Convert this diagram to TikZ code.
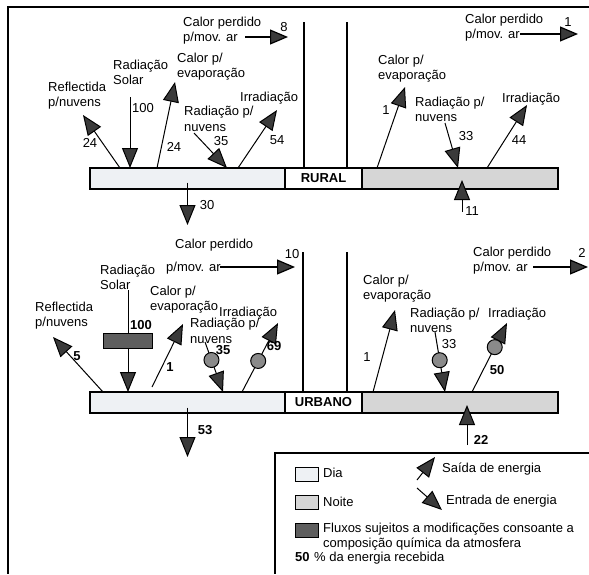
\documentclass[tikz,border=0pt]{standalone}
\usepackage{fontspec}
\setmainfont{Liberation Sans}
\usetikzlibrary{arrows.meta, positioning}
\definecolor{headgray}{HTML}{3A3A3A}
\definecolor{dayfill}{HTML}{EEF1F4}
\definecolor{nightfill}{HTML}{D6D6D6}
\definecolor{chemfill}{HTML}{5E5E5E}
\definecolor{dropgray}{HTML}{8A8A8A}

\begin{document}
\begin{tikzpicture}[
  x=1pt, y=-1pt,
  font=\fontsize{13}{15.5}\selectfont,
  lbl/.style={anchor=base west, inner sep=0pt, align=left},
  num/.style={inner sep=0pt},
  bnum/.style={num, font=\fontsize{13}{15.5}\selectfont\bfseries},
  bar/.style={draw, line width=1.2pt, minimum height=21pt, inner sep=0pt, outer sep=0pt, anchor=north west},
  daybar/.style={bar, fill=dayfill, minimum width=195pt},
  cell/.style={bar, fill=white, minimum width=77pt, font=\fontsize{13}{15.5}\selectfont\bfseries},
  nightbar/.style={bar, fill=nightfill, minimum width=196pt},
  flux/.style={-{Triangle[length=20pt, width=16pt, fill=headgray]}, line width=1pt},
  wind/.style={-{Triangle[length=18pt, width=15pt, fill=headgray]}, line width=1.2pt},
  drop/.style={circle, draw, line width=1pt, fill=dropgray, minimum size=15pt, inner sep=0pt},
  chembox/.style={draw, line width=1pt, fill=chemfill, minimum width=49pt, minimum height=15pt, inner sep=0pt},
  wall/.style={line width=1.2pt},
  key/.style={draw, line width=1.2pt, minimum width=23pt, minimum height=14pt, inner sep=0pt, anchor=north west},
]
  \useasboundingbox (0,0) rectangle (589,574);

  % Frames
  \draw[line width=1.5pt] (589,7) -- (8,7) -- (8,574);
  \draw[line width=1.5pt] (589,453) -- (275,453) -- (275,574);
  \draw[wall] (304,22) -- (304,168);
  \draw[wall] (347,22) -- (347,168);
  \draw[wall] (303,252) -- (303,392);
  \draw[wall] (347,252) -- (347,392);

  % Bars
  \node[daybar] (rday) at (90,168) {};
  \node[cell, right=0pt of rday] (rlab) {RURAL};
  \node[nightbar, right=0pt of rlab] (rnight) {};
  \node[daybar] (uday) at (90,392) {};
  \node[cell, right=0pt of uday] (ulab) {URBANO};
  \node[nightbar, right=0pt of ulab] (unight) {};

  % Free ends
  \coordinate (rdReflTip) at (83,115);
  \coordinate (rdSolarTail) at (130,97);
  \coordinate (rdEvapTip) at (175,82);
  \coordinate (rdRadTail) at (194,133);
  \coordinate (rdIrrTip) at (277,110);
  \coordinate (rdWindTail) at (245,37);
  \coordinate (rdWindTip) at (288,37);
  \coordinate (rdDownTip) at (187.5,225);
  \coordinate (rnWindTail) at (520,34);
  \coordinate (rnWindTip) at (578,34);
  \coordinate (rnEvapTip) at (405,87);
  \coordinate (rnRadTail) at (445,123);
  \coordinate (rnIrrTip) at (527,105);
  \coordinate (rnUpTail) at (462,212);
  \coordinate (udWindTail) at (220,267);
  \coordinate (udWindTip) at (295,267);
  \coordinate (udSolarTail) at (128,290);
  \coordinate (udReflTip) at (53,337);
  \coordinate (udEvapTail) at (152,387);
  \coordinate (udEvapTip) at (183,324);
  \coordinate (udRadTail) at (205,342);
  \coordinate (udIrrTip) at (278,323);
  \coordinate (udDownTip) at (187.5,457);
  \coordinate (unWindTail) at (533,267);
  \coordinate (unWindTip) at (588,267);
  \coordinate (unEvapTip) at (395,310);
  \coordinate (unRadTail) at (435,332);
  \coordinate (unIrrTip) at (507,323);
  \coordinate (unUpTail) at (467,445);
  \coordinate (keyOutTail) at (417,480);
  \coordinate (keyOutTip) at (435,457);
  \coordinate (keyInTail) at (417,488);
  \coordinate (keyInTip) at (442,510);

  % Rural, day
  \node[lbl] (rdReflTxt) at (48,106.5) {Reflectida\\p/nuvens};
  \node[lbl] (rdSolarTxt) at (113,84.5) {Radiação\\Solar};
  \node[lbl] (rdEvapTxt) at (177,77.5) {Calor p/\\evaporação};
  \node[lbl] (rdRadTxt) at (184,131) {Radiação p/\\nuvens};
  \node[lbl] (rdIrrTxt) at (240,101.5) {Irradiação};
  \node[lbl] (rdWindTxt) at (183,41.5) {Calor perdido\\p/mov. ar};
  \draw[flux] ([xshift=30pt]rday.north west) -- (rdReflTip);
  \draw[flux] (rdSolarTail) -- ([xshift=40pt]rday.north west);
  \draw[flux] ([xshift=67pt]rday.north west) -- (rdEvapTip);
  \draw[flux] (rdRadTail) -- ([xshift=137pt]rday.north west);
  \draw[flux] ([xshift=148pt]rday.north west) -- (rdIrrTip);
  \draw[wind] (rdWindTail) -- (rdWindTip);
  \draw[flux] ([yshift=-4pt]rday.center) -- (rdDownTip);
  \node[num] (rdReflNum) at (90,143) {24};
  \node[num] (rdSolarNum) at (143,108) {100};
  \node[num] (rdEvapNum) at (174,147) {24};
  \node[num] (rdRadNum) at (221,141) {35};
  \node[num] (rdIrrNum) at (277,140) {54};
  \node[num] (rdWindNum) at (284,27) {8};
  \node[num] (rdDownNum) at (207,205) {30};

  % Rural, night
  \node[lbl] (rnWindTxt) at (465,38.5) {Calor perdido\\p/mov. ar};
  \node[lbl] (rnEvapTxt) at (378,79.5) {Calor p/\\evaporação};
  \node[lbl] (rnRadTxt) at (415,121.5) {Radiação p/\\nuvens};
  \node[lbl] (rnIrrTxt) at (502,102.5) {Irradiação};
  \draw[wind] (rnWindTail) -- (rnWindTip);
  \draw[flux] ([xshift=15pt]rnight.north west) -- (rnEvapTip);
  \draw[flux] (rnRadTail) -- ([xshift=96pt]rnight.north west);
  \draw[flux] ([xshift=125pt]rnight.north west) -- (rnIrrTip);
  \draw[flux] (rnUpTail) -- ([xshift=2pt, yshift=-1.5pt]rnight.center);
  \node[num] (rnWindNum) at (568,22) {1};
  \node[num] (rnEvapNum) at (386,110) {1};
  \node[num] (rnRadNum) at (466,136) {33};
  \node[num] (rnIrrNum) at (519,140) {44};
  \node[num] (rnUpNum) at (472,211) {11};

  % Urban, day
  \node[lbl] (udReflTxt) at (35,326.5) {Reflectida\\p/nuvens};
  \node[lbl] (udSolarTxt) at (100,289.5) {Radiação\\Solar};
  \node[lbl] (udWindTxt) at (166,271.5) {\hspace*{9pt}Calor perdido\\[8pt]p/mov. ar};
  \node[lbl] (udEvapTxt) at (150,310.5) {Calor p/\\evaporação};
  \node[lbl] (udRadTxt) at (190,343) {Radiação p/\\nuvens};
  \node[lbl] (udIrrTxt) at (219,316) {Irradiação};
  \draw[wind] (udWindTail) -- (udWindTip);
  \draw[flux] (udSolarTail) -- node[chembox, pos=0.5] (udChem) {} ([xshift=38pt]uday.north west);
  \draw[flux] ([xshift=13pt]uday.north west) -- (udReflTip);
  \draw[flux] (udEvapTail) -- (udEvapTip);
  \draw[flux] (udRadTail) -- node[drop, pos=0.36] (udRadDrop) {} ([xshift=133pt]uday.north west);
  \draw[flux] ([xshift=152pt]uday.north west) -- node[drop, pos=0.45] (udIrrDrop) {} (udIrrTip);
  \draw[flux] ([yshift=-5pt]uday.center) -- (udDownTip);
  \node[num] (udWindNum) at (292,254) {10};
  \node[bnum] (udSolarNum) at (141,325) {100};
  \node[bnum] (udReflNum) at (77,356) {5};
  \node[bnum] (udEvapNum) at (170,367) {1};
  \node[bnum] (udRadNum) at (223,350) {35};
  \node[bnum] (udIrrNum) at (274,346) {69};
  \node[bnum] (udDownNum) at (205,430) {53};

  % Urban, night
  \node[lbl] (unWindTxt) at (473,271.5) {Calor perdido\\p/mov. ar};
  \node[lbl] (unEvapTxt) at (363,299.5) {Calor p/\\evaporação};
  \node[lbl] (unRadTxt) at (410,332.5) {Radiação p/\\nuvens};
  \node[lbl] (unIrrTxt) at (488,317.5) {Irradiação};
  \draw[wind] (unWindTail) -- (unWindTip);
  \draw[flux] ([xshift=11pt]unight.north west) -- (unEvapTip);
  \draw[flux] (unRadTail) -- node[drop, pos=0.47] (unRadDrop) {} ([xshift=83pt]unight.north west);
  \draw[flux] ([xshift=110pt]unight.north west) -- node[drop, pos=0.65] (unIrrDrop) {} (unIrrTip);
  \draw[flux] (unUpTail) -- ([xshift=7pt, yshift=-2.5pt]unight.center);
  \node[num] (unWindNum) at (582,253) {2};
  \node[num] (unEvapNum) at (367,357) {1};
  \node[num] (unRadNum) at (449,344) {33};
  \node[bnum] (unIrrNum) at (497,370) {50};
  \node[bnum] (unUpNum) at (481,440) {22};

  % Legend
  \node[key, fill=dayfill] (keyDay) at (295,467) {};
  \node[key, fill=nightfill] (keyNight) at (295,495) {};
  \node[key, fill=chemfill] (keyChem) at (295,523) {};
  \node[lbl] (keyDayTxt) at (323,477.5) {Dia};
  \node[lbl] (keyNightTxt) at (323,506.5) {Noite};
  \node[lbl] (keyChemTxt) at (323,547.5) {Fluxos sujeitos a modificações consoante a\\composição química da atmosfera};
  \node[lbl, font=\fontsize{13}{15.5}\selectfont\bfseries] (keyNum) at (295,561.5) {50};
  \node[lbl] (keyNumTxt) at (314,561.5) {\% da energia recebida};
  \draw[flux] (keyOutTail) -- (keyOutTip);
  \draw[flux] (keyInTail) -- (keyInTip);
  \node[lbl] (keyOutTxt) at (442,472.5) {Saída de energia};
  \node[lbl] (keyInTxt) at (446,504.5) {Entrada de energia};

\end{tikzpicture}
\end{document}
